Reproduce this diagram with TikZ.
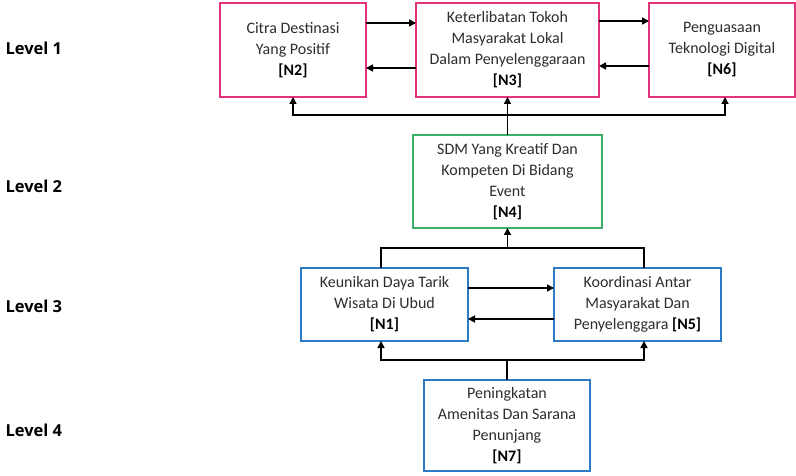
\documentclass[tikz,border=0pt]{standalone}
\usepackage{fontspec}
\setmainfont{Carlito}
\newfontfamily\lvlfont{Open Sans}
\usetikzlibrary{arrows.meta}
\definecolor{boxpink}{RGB}{226,51,125}
\definecolor{boxgreen}{RGB}{59,176,106}
\definecolor{boxblue}{RGB}{44,123,196}
\definecolor{bodytext}{RGB}{45,45,45}
\tikzset{
  box/.style={draw, line width=1.8pt, align=center, inner sep=0pt, outer sep=0pt,
    text=bodytext, font=\fontsize{16}{21}\selectfont},
  lvl/.style={anchor=west, font=\lvlfont\fontsize{16.5}{19}\selectfont\bfseries, text=black},
  link/.style={line width=1.6pt, black},
  arr/.style={link, -{Triangle[length=7pt,width=7pt]}},
}
\newcommand{\tagN}[1]{\textbf{\color{black}[#1]}}
\begin{document}
\begin{tikzpicture}[x=1pt,y=-1pt]
\useasboundingbox (0,0) rectangle (796,476);

% level labels
\node[lvl] (l1) at (2,48) {Level 1};
\node[lvl] (l2) at (2,186) {Level 2};
\node[lvl] (l3) at (2,306) {Level 3};
\node[lvl] (l4) at (2,430) {Level 4};

% level 1
\node[box, draw=boxpink, minimum width=146pt, minimum height=94pt] (n2) at (293,50)
  {Citra Destinasi\\Yang Positif\\\tagN{N2}};
\node[box, draw=boxpink, minimum width=183pt, minimum height=94pt] (n3) at (507.5,50)
  {Keterlibatan Tokoh\\Masyarakat Lokal\\Dalam Penyelenggaraan\\\tagN{N3}};
\node[box, draw=boxpink, minimum width=146pt, minimum height=94pt] (n6) at (722,50)
  {Penguasaan\\Teknologi Digital\\\tagN{N6}};

% level 2
\node[box, draw=boxgreen, minimum width=189pt, minimum height=93pt] (n4) at (507.5,181.5)
  {SDM Yang Kreatif Dan\\Kompeten Di Bidang\\Event\\\tagN{N4}};

% level 3
\node[box, draw=boxblue, minimum width=167pt, minimum height=73pt] (n1) at (384.5,304.5)
  {Keunikan Daya Tarik\\Wisata Di Ubud\\\tagN{N1}};
\node[box, draw=boxblue, minimum width=167pt, minimum height=73pt] (n5) at (637.5,304.5)
  {Koordinasi Antar\\Masyarakat Dan\\Penyelenggara \tagN{N5}};

% level 4
\node[box, draw=boxblue, minimum width=166pt, minimum height=91pt] (n7) at (507,425.5)
  {Peningkatan\\Amenitas Dan Sarana\\Penunjang\\\tagN{N7}};

% junction points of the shared lines
\coordinate (bus1) at (507.5,115);
\coordinate (bus2) at (507.5,248);
\coordinate (bus3) at (507,360);

% level 1 mutual links
\draw[arr] ([yshift=27pt]n2.east) -- ([yshift=27pt]n3.west);
\draw[arr] ([yshift=-18pt]n3.west) -- ([yshift=-18pt]n2.east);
\draw[arr] ([yshift=29pt]n3.east) -- ([yshift=29pt]n6.west);
\draw[arr] ([yshift=-16pt]n6.west) -- ([yshift=-16pt]n3.east);

% level 2 to level 1
\draw[arr] (n4.north) -- (n3.south);
\draw[arr] (bus1) -| (n2.south);
\draw[arr] (bus1) -| ([xshift=3pt]n6.south);

% level 3 mutual links
\draw[arr] ([yshift=16.5pt]n1.east) -- ([yshift=16.5pt]n5.west);
\draw[arr] ([yshift=-14.5pt]n5.west) -- ([yshift=-14.5pt]n1.east);

% level 3 to level 2
\draw[link] ([xshift=-3.5pt]n1.north) |- (bus2) -| ([xshift=6.5pt]n5.north);
\draw[arr] (bus2) -- (n4.south);

% level 4 to level 3
\draw[link] (n7.north) -- (bus3);
\draw[arr] (bus3) -| ([xshift=-3.5pt]n1.south);
\draw[arr] (bus3) -| ([xshift=6.5pt]n5.south);
\end{tikzpicture}
\end{document}
